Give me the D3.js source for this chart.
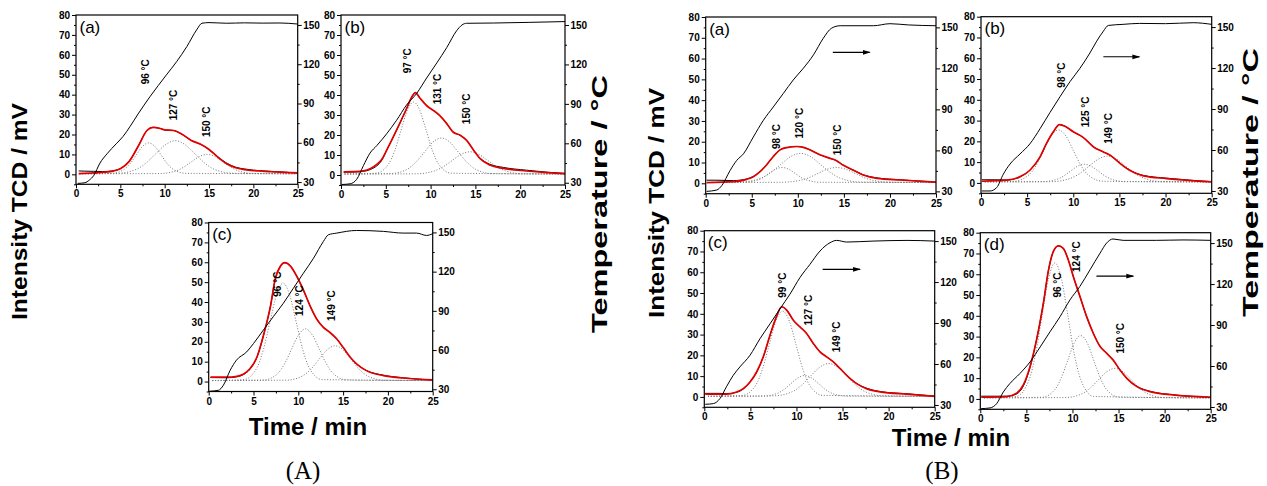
<!DOCTYPE html>
<html>
<head>
<meta charset="utf-8">
<script src="https://cdn.jsdelivr.net/npm/d3@7"></script>
<style>
  body { margin: 0; background: #fff; }
  svg { display: block; }
</style>
</head>
<body>
<svg id="fig" width="1267" height="486"></svg>
<script>
// ---------- axis ticks ----------
const timeTicks = [0, 5, 10, 15, 20, 25];
const timeMinor = [2.5, 7.5, 12.5, 17.5, 22.5];
const signalTicks = [0, 10, 20, 30, 40, 50, 60, 70, 80];
const signalMinor = [-5, 5, 15, 25, 35, 45, 55, 65, 75];
const tempTicks = [30, 60, 90, 120, 150];
const tempMinor = [45, 75, 105, 135];

// ---------- series: [time (min), value] ----------
// (A)(a)
const aaTemp = [[0.2,29],[1,29.5],[1.5,31.5],[2,35],[2.7,44.5],[3.5,51.6],[4.6,59.7],[5.3,64.8],[6.1,72.5],[7,82],[8.35,95.3],[10.2,111.9],[11.35,122],[12.5,133.5],[13.6,146.2],[14.2,151.3],[15,151.8],[17,151.3],[19,151.6],[21,151.4],[23,151.5],[25,150.7]];
const aaFit = [[0.3,0.4],[2,0.7],[3,1.0],[4,1.5],[5,2.8],[6,6.5],[7,14],[8,22],[8.7,23.6],[9.5,23],[10,22.3],[11,22],[12,20],[13,17],[14,15.2],[15,12.5],[16,8.6],[17,5.3],[18,3.3],[19,2.4],[20,1.9],[21,1.6],[22,1.3],[23,1.1],[24,0.9],[25,0.7]];
const aaMeas = [[0.3,1.7],[1,1.6],[2,1.5],[3,1.4],[4,1.7],[5,2.9],[6,6.6],[7,14],[8,22],[8.7,23.6],[9.5,23],[10,22.3],[11,22],[12,20],[13,17],[14,15.2],[15,12.5],[16,8.8],[17,5.6],[18,3.6],[19,2.7],[20,2.1],[22,1.5],[25,0.7]];
const aaPeak1 = [[0.4,0.3],[4.0,0.5],[5.4,2.4],[6.1,5.3],[6.8,9.7],[7.5,14.0],[8.2,15.8],[8.9,14.0],[9.6,9.7],[10.3,5.3],[11.0,2.4],[12.4,0.5],[25,0.3]];
const aaPeak2 = [[0.4,0.3],[4.6,0.5],[6.8,2.5],[7.9,5.7],[9.0,10.4],[10.1,14.9],[11.2,16.9],[12.3,14.9],[13.4,10.4],[14.5,5.7],[15.6,2.5],[17.8,0.5],[25,0.3]];
const aaPeak3 = [[0.4,0.3],[9.4,0.4],[11.2,1.6],[12.1,3.5],[13.0,6.2],[13.9,8.9],[14.8,10.0],[15.7,8.9],[16.6,6.2],[17.5,3.5],[18.4,1.6],[20.2,0.4],[25,0.3]];
const aaNotes = [{text:'96 °C', t:7.86, v:51.5}, {text:'127 °C', t:11.0, v:34.8}, {text:'150 °C', t:14.7, v:26.4}];

// (A)(b)
const abTemp = [[0.1,28.7],[1,29.2],[1.75,32.6],[2.5,43],[3.24,52.6],[4,58.3],[5.1,67.3],[6.2,77.5],[7.3,89],[8.45,98],[9.56,109.7],[10.7,121.2],[11.8,132.8],[12.9,145.6],[13.5,150],[14,151.3],[17,151.5],[21,152],[25,152.6]];
const abFit = [[0.3,1.6],[1.5,1.7],[2.5,2.1],[3.3,3.3],[4,5.3],[4.5,7.5],[5.1,12.4],[6.2,22.4],[7.3,33],[7.9,39],[8.3,41.2],[8.8,38.5],[9.6,34.5],[10.3,32.3],[11,29.8],[11.8,25.7],[12.5,21.5],[13.3,19.9],[14,17.4],[14.8,12.4],[15.5,8.3],[16.6,5],[18.1,3.3],[20.7,2],[23,1.2],[25,0.7]];
const abMeas = [[0.3,1.4],[1.5,1.5],[2.5,1.8],[3.3,2.8],[4,4.6],[4.5,7],[5.1,12.4],[6.2,22.4],[7.3,33],[7.9,39],[8.3,41.2],[8.8,38.5],[9.6,34.5],[10.3,32.3],[11,29.8],[11.8,25.7],[12.5,21.5],[13.3,19.9],[14,17.4],[14.8,12.4],[15.5,8.5],[16.6,5.4],[18.1,3.8],[20.7,2.4],[23,1.4],[25,0.8]];
const abPeak1 = [[0.4,0.5],[3.9,0.9],[5.3,5.4],[6.0,12.2],[6.7,22.4],[7.4,32.3],[8.1,36.5],[8.8,32.3],[9.5,22.4],[10.2,12.2],[10.9,5.4],[12.3,0.9],[25,0.5]];
const abPeak2 = [[0.4,0.5],[5.5,0.7],[7.4,2.9],[8.35,6.4],[9.3,11.4],[10.25,16.4],[11.2,18.5],[12.15,16.4],[13.1,11.4],[14.05,6.4],[15.0,2.9],[16.9,0.7],[25,0.5]];
const abPeak3 = [[0.4,0.5],[8.4,0.6],[10.4,2.0],[11.4,4.1],[12.4,7.2],[13.4,10.3],[14.4,11.6],[15.4,10.3],[16.4,7.2],[17.4,4.1],[18.4,2.0],[20.4,0.6],[25,0.5]];
const abNotes = [{text:'97 °C', t:7.44, v:57.1}, {text:'131 °C', t:10.8, v:43}, {text:'150 °C', t:14.0, v:33.1}];

// (A)(c)
const acTemp = [[0.1,28.5],[1.08,29.2],[1.64,33.1],[2.4,44.6],[3.1,52.3],[4.24,58.6],[5,65],[6.1,75.3],[7.2,85.5],[8.33,95.8],[9.45,107.3],[10.57,118.8],[11.7,130.3],[12.8,143.1],[13.36,148.2],[14.3,149.5],[16.5,151.5],[19.5,150.8],[21.7,149.5],[23.2,149.5],[24.3,147.7],[25,149]];
const acFit = [[0.2,2.2],[2,2.2],[3,2.5],[3.9,3.8],[4.6,6.4],[5.4,12.5],[6.1,23],[6.5,30],[6.9,38],[7.4,51],[8,58],[8.5,59.8],[9.1,58.2],[9.8,53.2],[10.6,45.7],[11.3,38.2],[12.05,31.5],[12.8,27.3],[13.5,24.8],[14.3,21.4],[15,17.2],[15.8,12.2],[16.5,8.9],[17.6,5.5],[19.5,3],[21.7,1.8],[25,0.8]];
const acMeas = [[0.2,2.0],[2,1.9],[3,2.3],[3.9,3.6],[4.6,6.2],[5.4,12.5],[6.1,23],[6.5,30],[6.9,38],[7.4,51],[8,58],[8.5,59.8],[9.1,58.2],[9.8,53.2],[10.6,45.7],[11.3,38.2],[12.05,31.5],[12.8,27.3],[13.5,24.8],[14.3,21.4],[15,17.2],[15.8,12.2],[16.5,8.9],[17.6,5.6],[19.5,3.2],[21.7,1.9],[25,0.8]];
const acPeak1 = [[0.4,0.5],[3.95,1.0],[5.4,7.1],[6.125,16.4],[6.85,30.2],[7.575,43.7],[8.3,49.5],[9.025,43.7],[9.75,30.2],[10.475,16.4],[11.2,7.1],[12.65,1.0],[25,0.5]];
const acPeak2 = [[0.4,0.5],[6.15,0.8],[7.7,4.0],[8.475,9.0],[9.25,16.3],[10.025,23.4],[10.8,26.5],[11.575,23.4],[12.35,16.3],[13.125,9.0],[13.9,4.0],[15.45,0.8],[25,0.5]];
const acPeak3 = [[0.4,0.5],[8.7,0.7],[10.5,2.9],[11.4,6.2],[12.3,11.1],[13.2,15.9],[14.1,18.0],[15.0,15.9],[15.9,11.1],[16.8,6.2],[17.7,2.9],[19.5,0.7],[25,0.5]];
const acNotes = [{text:'96 °C', t:7.7, v:49}, {text:'124 °C', t:10.1, v:40.7}, {text:'149 °C', t:13.65, v:38.2}];

// (B)(a)
const baTemp = [[0.1,30],[1.2,31],[1.74,34.2],[2.64,45.2],[3.36,52.6],[4.1,57.5],[5.17,69.8],[6.26,82],[7.34,91.8],[8.43,101.7],[9.5,111.5],[10.6,120.1],[11.7,129.9],[12.77,142.1],[13.68,149.5],[14.6,151.2],[18.2,151.2],[20,152.7],[22,151.8],[25,151.2]];
const baFit = [[0.1,0.3],[3,0.8],[4.45,1.9],[5.17,3.2],[5.9,5.6],[6.6,8.8],[7.34,12.9],[8.07,16.1],[8.8,17.2],[9.9,17.7],[10.6,17.3],[11.3,16.1],[12.4,13.7],[13.5,12],[14.2,10.9],[14.9,8.8],[16,6.4],[17.1,4],[18.6,2.4],[21.1,1.6],[25,0.5]];
const baMeas = [[0.1,1.5],[1,1.5],[2,1.4],[3,1.3],[4.45,2.1],[5.17,3.3],[5.9,5.6],[6.6,8.8],[7.34,12.9],[8.07,16.1],[8.8,17.2],[9.9,17.7],[10.6,17.3],[11.3,16.1],[12.4,13.7],[13.5,12],[14.2,10.9],[14.9,8.8],[16,6.4],[17.1,4.1],[18.6,2.6],[21.1,1.7],[25,0.6]];
const baPeak1 = [[0.4,0.4],[4.1,0.5],[5.5,1.4],[6.2,2.7],[6.9,4.8],[7.6,6.8],[8.3,7.6],[9.0,6.8],[9.7,4.8],[10.4,2.7],[11.1,1.4],[12.5,0.5],[25,0.4]];
const baPeak2 = [[0.4,0.4],[3.7,0.6],[5.9,2.3],[7.0,5.0],[8.1,8.9],[9.2,12.8],[10.3,14.4],[11.4,12.8],[12.5,8.9],[13.6,5.0],[14.7,2.3],[16.9,0.6],[25,0.4]];
const baPeak3 = [[0.4,0.4],[8.2,0.5],[10.2,1.4],[11.2,2.7],[12.2,4.8],[13.2,6.8],[14.2,7.6],[15.2,6.8],[16.2,4.8],[17.2,2.7],[18.2,1.4],[20.2,0.5],[25,0.4]];
const baNotes = [{text:'98 °C', t:7.7, v:22.5}, {text:'120 °C', t:10.2, v:28.9}, {text:'150 °C', t:14.3, v:20.9}];
const baArrow = [13.8, 17.8, 63];

// (B)(b)
const bbTemp = [[0.1,30],[0.98,30],[1.7,32.5],[2.42,42.3],[3.14,49.7],[4.23,57.1],[5.3,64.5],[6.4,75.6],[7.48,87.5],[8.56,99],[9.65,110.1],[10.73,119.9],[11.8,131],[12.54,139.7],[13.26,147],[13.8,151.2],[15.4,152],[17.2,152.7],[20,152.5],[23,153.2],[25,152]];
const bbFit = [[0.1,0.8],[2.8,1.3],[4.2,2.9],[5.3,6.1],[6.4,12.5],[7.1,19],[7.84,24.6],[8.5,28.1],[9.1,27.3],[10,24.6],[11.1,21.8],[12.2,17.3],[13.26,14.9],[14,13.3],[15.1,9.3],[16.1,6.1],[17.6,3.4],[20.1,2.1],[25,0.5]];
const bbMeas = [[0.1,1.5],[1.5,1.5],[2.8,1.4],[4.2,2.9],[5.3,6.1],[6.4,12.5],[7.1,19],[7.84,24.6],[8.5,28.1],[9.1,27.3],[10,24.6],[11.1,21.8],[12.2,17.3],[13.26,14.9],[14,13.3],[15.1,9.3],[16.1,6.2],[17.6,3.6],[20.1,2.3],[25,0.6]];
const bbPeak1 = [[0.4,0.5],[3.6,0.8],[5.2,3.9],[6.0,8.6],[6.8,15.7],[7.6,22.6],[8.4,25.5],[9.2,22.6],[10.0,15.7],[10.8,8.6],[11.6,3.9],[13.2,0.8],[25,0.5]];
const bbPeak2 = [[0.4,0.5],[6.7,0.6],[8.2,1.7],[8.95,3.3],[9.7,5.7],[10.45,8.0],[11.2,9.0],[11.95,8.0],[12.7,5.7],[13.45,3.3],[14.2,1.7],[15.7,0.6],[25,0.5]];
const bbPeak3 = [[0.4,0.5],[7.7,0.6],[9.7,2.2],[10.7,4.5],[11.7,8.0],[12.7,11.4],[13.7,12.9],[14.7,11.4],[15.7,8.0],[16.7,4.5],[17.7,2.2],[19.7,0.6],[25,0.5]];
const bbNotes = [{text:'98 °C', t:8.74, v:51.9}, {text:'125 °C', t:11.3, v:34.2}, {text:'149 °C', t:13.8, v:26.2}];
const bbArrow = [13.26, 17.16, 60.7];

// (B)(c)
const bcTemp = [[0.1,30.5],[0.98,31],[1.7,34.7],[2.4,43.3],[3.15,51.8],[3.87,57.9],[4.96,66.4],[6.04,78.5],[7.13,89.4],[8.2,100.3],[9.3,111.2],[10.38,123.3],[11.47,133],[12.55,142.7],[13.64,148.8],[14.36,150.5],[15.45,149.3],[18.3,150],[22,150.5],[25,150]];
const bcFit = [[0.1,1.3],[2.4,1.3],[3.5,2.4],[4.23,4],[4.96,7.2],[5.68,12],[6.4,19.3],[7.13,29.7],[7.85,38.9],[8.4,43.4],[8.94,41.8],[9.66,36.9],[10.38,33.7],[11.1,30.5],[11.83,25.7],[12.55,21.7],[13.28,19.3],[14,16.9],[14.72,13.7],[15.45,10.4],[16.53,6.4],[17.6,4],[19.07,2.4],[22,1.3],[25,0.3]];
const bcMeas = [[0.1,1.7],[1.5,1.7],[2.4,1.6],[3.5,2.2],[4.23,3.8],[4.96,7.2],[5.68,12],[6.4,19.3],[7.13,29.7],[7.85,38.9],[8.4,43.4],[8.94,41.8],[9.66,36.9],[10.38,33.7],[11.1,30.5],[11.83,25.7],[12.55,21.7],[13.28,19.3],[14,16.9],[14.72,13.7],[15.45,10.4],[16.53,6.5],[17.6,4.2],[19.07,2.6],[22,1.5],[25,0.4]];
const bcPeak1 = [[0.4,0.3],[4.15,0.75],[5.6,5.8],[6.325,13.6],[7.05,25.2],[7.775,36.5],[8.5,41.3],[9.225,36.5],[9.95,25.2],[10.675,13.6],[11.4,5.8],[12.85,0.75],[25,0.3]];
const bcPeak2 = [[0.4,0.3],[6.4,0.4],[7.9,1.65],[8.65,3.55],[9.4,6.4],[10.15,9.1],[10.9,10.3],[11.65,9.1],[12.4,6.4],[13.15,3.55],[13.9,1.65],[15.4,0.4],[25,0.3]];
const bcPeak3 = [[0.4,0.3],[7.5,0.5],[9.5,2.4],[10.5,5.4],[11.5,9.9],[12.5,14.2],[13.5,16.1],[14.5,14.2],[15.5,9.9],[16.5,5.4],[17.5,2.4],[19.5,0.5],[25,0.3]];
const bcNotes = [{text:'99 °C', t:8.5, v:53.8}, {text:'127 °C', t:11.3, v:41.8}, {text:'149 °C', t:14.3, v:28.9}];
const bcArrow = [12.84, 16.9, 61.4];

// (B)(d)
const bdTemp = [[0.1,28.8],[1.05,29.3],[1.77,32.4],[2.5,41],[3.2,47.1],[4.3,54.5],[5.4,63],[6.5,74],[7.56,85],[8.65,96.1],[9.73,108.4],[10.8,118.2],[11.9,130.4],[13,142.7],[13.7,150],[14.4,153],[15.5,152],[19.1,152],[22,152.3],[25,152]];
const bdFit = [[0.1,0.8],[2.86,1.1],[3.94,2.7],[4.67,6.7],[5.4,15.6],[6.1,28.4],[6.84,46],[7.4,62],[7.92,70.9],[8.47,73.7],[9,72.5],[9.55,66.9],[10.1,58.8],[10.82,49.2],[11.54,39.6],[12.26,31.6],[13,25.2],[13.7,22],[14.4,18.8],[15.16,13.9],[15.9,9.9],[17,5.9],[18.4,3.5],[20.9,1.9],[25,0.8]];
const bdMeas = [[0.1,1.3],[2.86,1.3],[3.94,2.4],[4.67,6.2],[5.4,15.2],[6.1,28.4],[6.84,46],[7.4,62],[7.92,70.9],[8.47,73.7],[9,72.5],[9.55,66.9],[10.1,58.8],[10.82,49.2],[11.54,39.6],[12.26,31.6],[13,25.2],[13.7,22],[14.4,18.8],[15.16,13.9],[15.9,9.9],[17,6.0],[18.4,3.7],[20.9,2.0],[25,0.8]];
const bdPeak1 = [[0.4,0.5],[3.9,1.2],[5.3,9.3],[6.0,21.6],[6.7,40.0],[7.4,57.8],[8.1,65.5],[8.8,57.8],[9.5,40.0],[10.2,21.6],[10.9,9.3],[12.3,1.2],[25,0.5]];
const bdPeak2 = [[0.4,0.5],[6.7,0.8],[8.1,4.55],[8.8,10.25],[9.5,18.7],[10.2,27.0],[10.9,30.5],[11.6,27.0],[12.3,18.7],[13.0,10.25],[13.7,4.55],[15.1,0.8],[25,0.5]];
const bdPeak3 = [[0.4,0.5],[9.2,0.65],[11.0,2.4],[11.9,5.1],[12.8,9.1],[13.7,13.0],[14.6,14.7],[15.5,13.0],[16.4,9.1],[17.3,5.1],[18.2,2.4],[20.0,0.65],[25,0.5]];
const bdNotes = [{text:'96 °C', t:8.36, v:54.8}, {text:'124 °C', t:10.46, v:68.5}, {text:'150 °C', t:15.16, v:29.2}];
const bdArrow = [12.6, 16.6, 59.1];

// ---------- layout ----------
const panels = [
  {box:[76, 15, 297.7, 184.3],   tag:'(a)', temp:aaTemp, fit:aaFit, meas:aaMeas, peaks:[aaPeak1, aaPeak2, aaPeak3], notes:aaNotes, arrow:null},
  {box:[341, 15, 565, 185],      tag:'(b)', temp:abTemp, fit:abFit, meas:abMeas, peaks:[abPeak1, abPeak2, abPeak3], notes:abNotes, arrow:null},
  {box:[208.7, 222.5, 432.7, 391.5], tag:'(c)', temp:acTemp, fit:acFit, meas:acMeas, peaks:[acPeak1, acPeak2, acPeak3], notes:acNotes, arrow:null},
  {box:[705.7, 17, 936, 193.7],  tag:'(a)', temp:baTemp, fit:baFit, meas:baMeas, peaks:[baPeak1, baPeak2, baPeak3], notes:baNotes, arrow:baArrow},
  {box:[981, 16.7, 1211.7, 193.3], tag:'(b)', temp:bbTemp, fit:bbFit, meas:bbMeas, peaks:[bbPeak1, bbPeak2, bbPeak3], notes:bbNotes, arrow:bbArrow},
  {box:[704.3, 230.7, 934.7, 407.3], tag:'(c)', temp:bcTemp, fit:bcFit, meas:bcMeas, peaks:[bcPeak1, bcPeak2, bcPeak3], notes:bcNotes, arrow:bcArrow},
  {box:[980.3, 232.7, 1210.7, 409.3], tag:'(d)', temp:bdTemp, fit:bdFit, meas:bdMeas, peaks:[bdPeak1, bdPeak2, bdPeak3], notes:bdNotes, arrow:bdArrow}
];

const SANS = '"Liberation Sans", Arial, Helvetica, sans-serif';
const SERIF = '"Liberation Serif", "Times New Roman", serif';
const svg = d3.select('#fig');

svg.append('defs').append('marker')
  .attr('id', 'head')
  .attr('markerUnits', 'userSpaceOnUse')
  .attr('viewBox', '0 0 8 6')
  .attr('refX', 7).attr('refY', 3)
  .attr('markerWidth', 8).attr('markerHeight', 6)
  .attr('orient', 'auto')
  .append('path').attr('d', 'M0,0.6 L8,3 L0,5.4 Z').attr('fill', '#000');

function styleAxis(sel) {
  sel.select('.domain').remove();
  sel.selectAll('line').attr('stroke', '#000').attr('stroke-width', 1);
  sel.selectAll('text')
    .attr('font-family', SANS).attr('font-weight', 'bold')
    .attr('font-size', 10).attr('fill', '#000');
}

function drawPanel(p) {
  const [x0, y0, x1, y1] = p.box;
  const x = d3.scaleLinear().domain([0, 25]).range([x0, x1]);
  const y = d3.scaleLinear().domain([-5, 80]).range([y1, y0]);
  const yT = d3.scaleLinear().domain([28.3, 157.6]).range([y1, y0]);
  const g = svg.append('g');

  const lineOn = sc => d3.line().x(d => x(d[0])).y(d => sc(d[1])).curve(d3.curveMonotoneX);

  // deconvoluted components
  p.peaks.forEach(pk => {
    g.append('path').attr('d', lineOn(y)(pk))
      .attr('fill', 'none').attr('stroke', '#777')
      .attr('stroke-width', 1).attr('stroke-dasharray', '1,1.8');
  });
  // measured TCD signal
  g.append('path').attr('d', lineOn(y)(p.meas))
    .attr('fill', 'none').attr('stroke', '#000').attr('stroke-width', 1);
  // fitted envelope
  g.append('path').attr('d', lineOn(y)(p.fit))
    .attr('fill', 'none').attr('stroke', '#e00000').attr('stroke-width', 1.7);
  // oven temperature
  g.append('path').attr('d', lineOn(yT)(p.temp))
    .attr('fill', 'none').attr('stroke', '#000').attr('stroke-width', 1);

  // axes
  g.append('g').attr('transform', `translate(0,${y1})`)
    .call(d3.axisBottom(x).tickValues(timeTicks).tickSize(4).tickPadding(2).tickSizeOuter(0)).call(styleAxis);
  g.append('g').attr('transform', `translate(0,${y1})`)
    .call(d3.axisBottom(x).tickValues(timeMinor).tickSize(2).tickFormat('').tickSizeOuter(0)).call(styleAxis);
  g.append('g').attr('transform', `translate(${x0},0)`)
    .call(d3.axisLeft(y).tickValues(signalTicks).tickSize(4).tickPadding(2).tickSizeOuter(0)).call(styleAxis);
  g.append('g').attr('transform', `translate(${x0},0)`)
    .call(d3.axisLeft(y).tickValues(signalMinor).tickSize(2).tickFormat('').tickSizeOuter(0)).call(styleAxis);
  g.append('g').attr('transform', `translate(${x1},0)`)
    .call(d3.axisRight(yT).tickValues(tempTicks).tickSize(4).tickPadding(1.5).tickSizeOuter(0)).call(styleAxis);
  g.append('g').attr('transform', `translate(${x1},0)`)
    .call(d3.axisRight(yT).tickValues(tempMinor).tickSize(2).tickFormat('').tickSizeOuter(0)).call(styleAxis);

  // frame
  g.append('rect').attr('x', x0).attr('y', y0).attr('width', x1 - x0).attr('height', y1 - y0)
    .attr('fill', 'none').attr('stroke', '#000').attr('stroke-width', 1.2);

  // panel tag
  g.append('text').attr('x', x0 + 3.5).attr('y', y0 + 17.5)
    .attr('font-family', SANS).attr('font-size', 17).attr('fill', '#000').text(p.tag);

  // peak temperature notes
  p.notes.forEach(n => {
    g.append('text')
      .attr('transform', `translate(${x(n.t)},${y(n.v)}) rotate(-90)`)
      .attr('text-anchor', 'middle').attr('dominant-baseline', 'central')
      .attr('font-family', SANS).attr('font-weight', 'bold').attr('font-size', 10)
      .attr('fill', '#000').text(n.text);
  });

  // direction arrow
  if (p.arrow) {
    g.append('line')
      .attr('x1', x(p.arrow[0])).attr('x2', x(p.arrow[1]))
      .attr('y1', y(p.arrow[2])).attr('y2', y(p.arrow[2]))
      .attr('stroke', '#000').attr('stroke-width', 1.1)
      .attr('marker-end', 'url(#head)');
  }
}

panels.forEach(drawPanel);

// ---------- titles ----------
const vTitles = [
  {text:'Intensity TCD / mV', cx:19.5, cy:211.5, len:217},
  {text:'Temperature / °C',   cx:599,  cy:204,   len:258},
  {text:'Intensity TCD / mV', cx:656.5, cy:203,  len:230},
  {text:'Temperature / °C',   cx:1250.5, cy:182.5, len:269}
];
vTitles.forEach(t => {
  svg.append('text')
    .attr('transform', `translate(${t.cx},${t.cy}) rotate(-90)`)
    .attr('text-anchor', 'middle').attr('dominant-baseline', 'central')
    .attr('font-family', SANS).attr('font-weight', 'bold').attr('font-size', 22)
    .attr('textLength', t.len).attr('lengthAdjust', 'spacingAndGlyphs')
    .attr('fill', '#000').text(t.text);
});

const hTitles = [
  {text:'Time / min', cx:308, base:435},
  {text:'Time / min', cx:951, base:446}
];
hTitles.forEach(t => {
  svg.append('text').attr('x', t.cx).attr('y', t.base)
    .attr('text-anchor', 'middle')
    .attr('font-family', SANS).attr('font-weight', 'bold').attr('font-size', 24)
    .attr('fill', '#000').text(t.text);
});

[{text:'(A)', cx:303}, {text:'(B)', cx:942}].forEach(t => {
  svg.append('text').attr('x', t.cx).attr('y', 479)
    .attr('text-anchor', 'middle')
    .attr('font-family', SERIF).attr('font-size', 25)
    .attr('fill', '#000').text(t.text);
});
</script>
</body>
</html>
